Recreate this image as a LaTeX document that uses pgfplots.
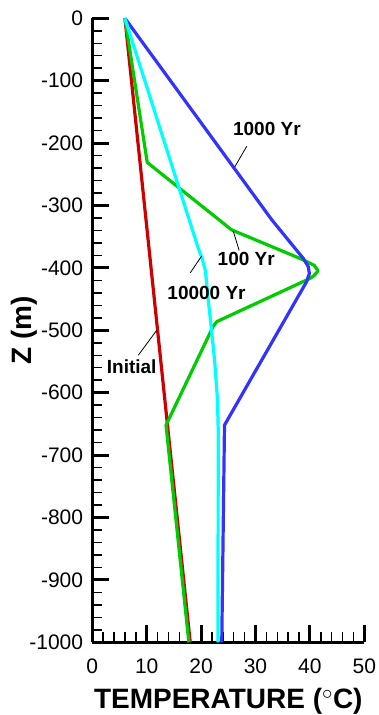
\documentclass[border=0pt]{standalone}
\usepackage{pgfplots}
\pgfplotsset{compat=1.18}
\usepackage{fontspec}
\setmainfont{Liberation Sans}
\definecolor{cred}{RGB}{204,0,0}
\definecolor{cgreen}{RGB}{0,204,0}
\definecolor{cblue}{RGB}{51,51,255}
\definecolor{ccyan}{RGB}{0,255,255}
\begin{document}
\begin{tikzpicture}
\begin{axis}[
  at={(0,0)}, anchor=south west,
  scale only axis, width=272pt, height=624pt,
  xmin=0, xmax=50, ymin=-1000, ymax=0,
  axis lines*=left,
  clip=false,
  xtick={0,10,...,50}, ytick={-1000,-900,...,0},
  minor x tick num=4, minor y tick num=4,
  tick align=inside,
  major tick length=17pt, minor tick length=10pt,
  major tick style={line width=3pt, black},
  minor tick style={line width=1.5pt, black},
  axis line style={line width=3pt, black},
  /pgf/number format/assume math mode=true,
  /pgf/number format/1000 sep={},
  tick label style={font=\fontsize{21}{21}\selectfont},
  xticklabel style={anchor=base, inner sep=0pt, yshift=-31pt},
  yticklabel style={anchor=east, inner sep=0pt, xshift=-9pt},
  every axis x label/.style={at={(axis description cs:0.5,-0.1058)}, anchor=base, font=\fontsize{28}{28}\selectfont\bfseries},
  every axis y label/.style={at={(axis description cs:-0.2217,0.5)}, rotate=90, anchor=base, font=\fontsize{28}{28}\selectfont\bfseries},
  xlabel={TEMPERATURE (\ensuremath{^\circ}C)},
  ylabel={Z (m)},
]
% Initial
\addplot[cred, line width=3.2pt] coordinates {(6,0) (18,-1000)};
% 100 Yr
\addplot[cgreen, line width=3.2pt, line join=round] coordinates {
  (6,0) (10.1,-231) (25.6,-339) (38.5,-386) (40.8,-396) (41.5,-404.5)
  (40.8,-412) (40.0,-417) (22.9,-486) (22.2,-494) (21.6,-505)
  (13.55,-652) (17.75,-1000)};
% 1000 Yr
\addplot[cblue, line width=3.2pt, line join=round] coordinates {
  (6,0) (33,-323) (38.8,-385) (39.7,-398) (39.9,-409) (39.4,-422)
  (24.3,-652) (23.8,-1000)};
% 10000 Yr
\addplot[ccyan, line width=3.2pt, line join=round] coordinates {
  (6,0) (19.5,-369) (20.2,-385) (20.8,-405) (21.3,-450) (21.8,-490)
  (22.5,-550) (23.0,-610) (23.15,-660) (23.1,-1000)};
% labels
\node[font=\fontsize{19}{19}\selectfont\bfseries] at (axis cs:32.1,-178) {1000 Yr};
\draw[black, line width=0.8pt] (axis cs:28.4,-205) -- (axis cs:26.2,-238);
\node[font=\fontsize{19}{19}\selectfont\bfseries] at (axis cs:28.3,-386) {100 Yr};
\draw[black, line width=0.8pt] (axis cs:25.9,-341) -- (axis cs:27.0,-372);
\node[font=\fontsize{19}{19}\selectfont\bfseries] at (axis cs:21.0,-440) {10000 Yr};
\draw[black, line width=0.8pt] (axis cs:18.0,-408) -- (axis cs:20.1,-381);
\node[font=\fontsize{19}{19}\selectfont\bfseries] at (axis cs:7.24,-558) {Initial};
\draw[black, line width=0.8pt] (axis cs:8.46,-540) -- (axis cs:11.84,-500);
\end{axis}
\pgfresetboundingbox
\path (-92.3pt,-72.7pt) rectangle (286.7pt,642.3pt);
\end{tikzpicture}
\end{document}
